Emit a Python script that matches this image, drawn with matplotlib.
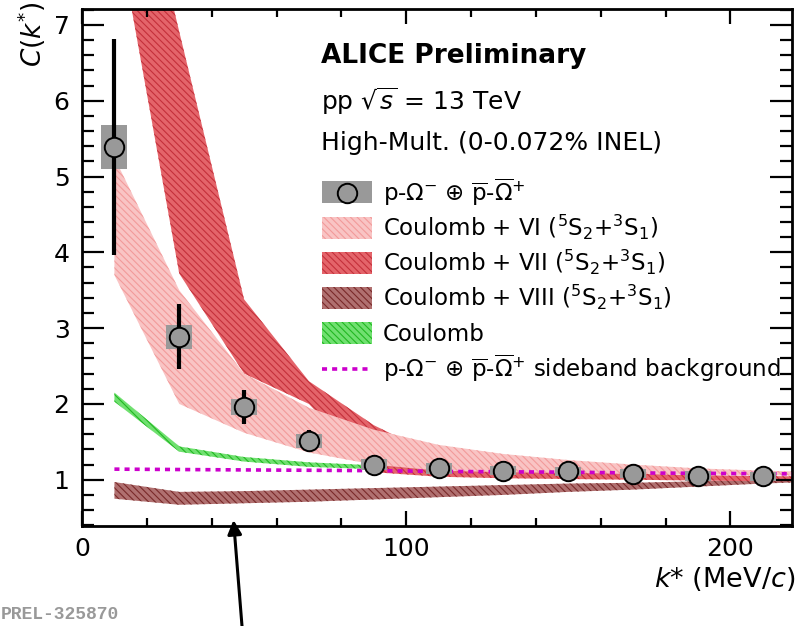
import matplotlib
matplotlib.use("Agg")
import matplotlib.pyplot as plt
from matplotlib.patches import Rectangle
from matplotlib.lines import Line2D
from matplotlib.ticker import MultipleLocator

plt.rcParams["font.family"] = ["DejaVu Sans"]
plt.rcParams["mathtext.fontset"] = "dejavusans"
plt.rcParams["hatch.linewidth"] = 0.8

# measured p-Omega correlation
kstar = [10, 30, 50, 70, 90, 110, 130, 150, 170, 190, 210]
corr = [5.39, 2.885, 1.96, 1.51, 1.20, 1.15, 1.12, 1.11, 1.08, 1.05, 1.045]
stat_err = [1.43, 0.43, 0.225, 0.145, 0.05, 0.04, 0.04, 0.04, 0.04, 0.04, 0.04]
syst_err = [0.29, 0.155, 0.11, 0.09, 0.07, 0.07, 0.06, 0.06, 0.06, 0.06, 0.06]

# model bands
k_model = [10, 30, 50, 70, 90, 110, 130, 150, 170, 190, 210, 230]
vi_low = [3.70, 2.00, 1.62, 1.36, 1.20, 1.12, 1.10, 1.09, 1.08, 1.07, 1.06, 1.05]
vi_high = [5.25, 3.50, 2.40, 1.95, 1.66, 1.46, 1.34, 1.26, 1.20, 1.15, 1.12, 1.10]
vii_low = [8.47, 3.72, 2.40, 2.00, 1.10, 1.04, 1.02, 1.01, 1.00, 0.99, 0.98, 0.98]
vii_high = [10.5, 6.91, 3.38, 2.30, 1.72, 1.30, 1.15, 1.10, 1.08, 1.06, 1.05, 1.04]
viii_low = [0.75, 0.67, 0.69, 0.71, 0.74, 0.77, 0.80, 0.84, 0.87, 0.91, 0.95, 0.98]
viii_high = [0.97, 0.84, 0.85, 0.87, 0.89, 0.91, 0.93, 0.95, 0.96, 0.98, 1.00, 1.02]
coul_low = [2.03, 1.37, 1.24, 1.17, 1.14, 1.10, 1.07, 1.05, 1.04, 1.03, 1.02, 1.01]
coul_high = [2.15, 1.44, 1.30, 1.23, 1.19, 1.14, 1.10, 1.08, 1.06, 1.05, 1.04, 1.03]
sideband = [1.14, 1.135, 1.13, 1.125, 1.12, 1.11, 1.105, 1.10, 1.09, 1.085, 1.08, 1.075]

legend_labels = [
    r"p-$\Omega^{-}$ $\oplus$ $\overline{\mathrm{p}}$-$\overline{\Omega}^{+}$",
    r"Coulomb + VI ($^{5}\mathrm{S}_{2}$+$^{3}\mathrm{S}_{1}$)",
    r"Coulomb + VII ($^{5}\mathrm{S}_{2}$+$^{3}\mathrm{S}_{1}$)",
    r"Coulomb + VIII ($^{5}\mathrm{S}_{2}$+$^{3}\mathrm{S}_{1}$)",
    "Coulomb",
    r"p-$\Omega^{-}$ $\oplus$ $\overline{\mathrm{p}}$-$\overline{\Omega}^{+}$ sideband background",
]

W, H = 796, 626
HATCH = "\\\\\\\\\\"
GRAY = "#999999"
MAGENTA = "#cc00cc"

# (face, hatch colour) for VIII, Coulomb, VII, VI
c_viii = ("#b07070", "#7a2a2a")
c_coul = ("#70e070", "#22b822")
c_vii = ("#e4646a", "#c4303a")
c_vi = ("#f9c4c4", "#f29a9a")

fig = plt.figure(figsize=(W / 100, H / 100), dpi=100)
ax = fig.add_axes([82 / W, 100 / H, 710 / W, 517 / H])

ax.fill_between(k_model, viii_low, viii_high, facecolor=c_viii[0], edgecolor=c_viii[1], hatch=HATCH, linewidth=0)
ax.fill_between(k_model, coul_low, coul_high, facecolor=c_coul[0], edgecolor=c_coul[1], hatch=HATCH, linewidth=0)
ax.fill_between(k_model, vii_low, vii_high, facecolor=c_vii[0], edgecolor=c_vii[1], hatch=HATCH, linewidth=0)
ax.fill_between(k_model, vi_low, vi_high, facecolor=c_vi[0], edgecolor=c_vi[1], hatch=HATCH, linewidth=0)
ax.plot(k_model, sideband, color=MAGENTA, lw=2.6, linestyle=(0, (1.4, 1.4)), zorder=4)

# systematic boxes, stat errors, points
ax.bar(kstar, [2 * s for s in syst_err], bottom=[c - s for c, s in zip(corr, syst_err)],
       width=8, color=GRAY, zorder=5)
ax.errorbar(kstar, corr, yerr=stat_err, fmt="none", ecolor="black", elinewidth=3, capsize=0, zorder=6)
ax.plot(kstar, corr, "o", ms=14, mfc=GRAY, mec="black", mew=1.4, zorder=7)

ax.set_xlim(0, 219)
ax.set_ylim(0.39, 7.21)
ax.xaxis.set_major_locator(MultipleLocator(100))
ax.xaxis.set_minor_locator(MultipleLocator(20))
ax.yaxis.set_major_locator(MultipleLocator(1))
ax.yaxis.set_minor_locator(MultipleLocator(0.2))
ax.tick_params(which="both", direction="in", top=True, right=True, width=1.6, labelsize=18)
ax.tick_params(axis="x", which="major", length=11, pad=8)
ax.tick_params(axis="x", which="minor", length=5.5)
ax.tick_params(axis="y", which="major", length=15.5, pad=9)
ax.tick_params(axis="y", which="minor", length=8.5)
for sp in ax.spines.values():
    sp.set_linewidth(2)

fig.text(32 / W, 1 - 1 / H, r"$C(k^{*})$", rotation=90, ha="center", va="top", fontsize=19)
fig.text(795 / W, 1 - 587 / H, r"$k$* (MeV/$c$)", ha="right", va="baseline", fontsize=19.5)

# header
fig.text(321 / W, 1 - 63 / H, "ALICE Preliminary", fontsize=19, fontweight="bold", va="baseline")
fig.text(321 / W, 1 - 110 / H, r"pp $\sqrt{s}$ = 13 TeV", fontsize=18, va="baseline")
fig.text(321 / W, 1 - 150 / H, "High-Mult. (0-0.072% INEL)", fontsize=18, va="baseline")

# legend drawn by hand
row_y = [192.5 + 35.2 * i for i in range(len(legend_labels))]
sw_x0, sw_x1, sw_h = 322, 372, 22


def swatch(y, face, edge, hatch=None):
    fig.add_artist(Rectangle((sw_x0 / W, 1 - (y + sw_h / 2) / H), (sw_x1 - sw_x0) / W, sw_h / H,
                             transform=fig.transFigure, facecolor=face, edgecolor=edge,
                             hatch=hatch, linewidth=0))


swatch(row_y[0], GRAY, GRAY)
fig.add_artist(Line2D([(sw_x0 + sw_x1) / 2 / W], [1 - row_y[0] / H], marker="o", ms=14,
                      mfc=GRAY, mec="black", mew=1.4, transform=fig.transFigure))
for y, (face, hc) in zip(row_y[1:5], [c_vi, c_vii, c_viii, c_coul]):
    swatch(y, face, hc, HATCH)
fig.add_artist(Line2D([sw_x0 / W, sw_x1 / W], [1 - row_y[5] / H] * 2, color=MAGENTA, lw=2.6,
                      linestyle=(0, (1.4, 1.4)), transform=fig.transFigure))
for y, lab in zip(row_y, legend_labels):
    fig.text(383 / W, 1 - (y + 8) / H, lab, fontsize=16.5, va="baseline")

# preliminary tag and arrow
fig.text(1 / W, 3 / H, "PREL-325870", ha="left", va="bottom", fontsize=13,
         family="Liberation Mono", fontweight="bold", color="#999999")
ax.annotate("", xy=(233.5, 106), xycoords="figure pixels", xytext=(242, 0),
            textcoords="figure pixels", annotation_clip=False,
            arrowprops=dict(arrowstyle="-|>,head_length=0.6,head_width=0.3", mutation_scale=14,
                            lw=2.2, color="black", shrinkA=0, shrinkB=0))

fig.savefig("out.png", dpi=100)
